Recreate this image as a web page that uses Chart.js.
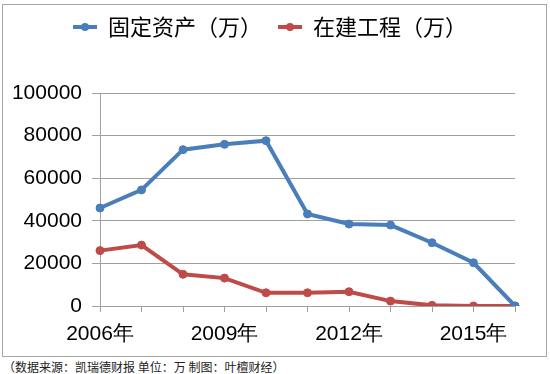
<!DOCTYPE html>
<html>
<head>
<meta charset="utf-8">
<script src="https://cdn.jsdelivr.net/npm/chart.js@4/dist/chart.umd.min.js"></script>
<style>
  body { margin: 0; background: #fff; width: 550px; height: 374px; position: relative; overflow: hidden; }
  #frame { position: absolute; left: 2px; top: 4px; width: 543px; height: 351px; border: 1px solid #a6a6a6; }
  #wrap { position: absolute; left: 3px; top: 0; width: 540px; height: 356px; }
  #note { position: absolute; left: 3px; top: 358px; font: 12px "Noto Sans CJK SC", sans-serif; color: #222; white-space: nowrap; }
</style>
</head>
<body>
<div id="frame"></div>
<div id="wrap"><canvas id="chart"></canvas></div>
<div id="note">（数据来源：凯瑞德财报 单位：万 制图：叶檀财经）</div>
<script>
// data
const years = ['2006年', '2007年', '2008年', '2009年', '2010年', '2011年', '2012年', '2013年', '2014年', '2015年', '2016年'];
const fixedAssets = [46000, 54500, 73400, 75900, 77600, 43200, 38500, 38000, 29700, 20300, 0];
const construction = [26000, 28600, 14900, 13100, 6200, 6200, 6700, 2300, 300, 0, 0];
const seriesNames = ['固定资产（万）', '在建工程（万）'];
const seriesColors = ['#4A7EBB', '#BE4B48'];

// legend marker: short line with a dot, like the spreadsheet legend
function legendMarker(color) {
    const c = document.createElement('canvas');
    c.width = 24; c.height = 10;
    const ctx = c.getContext('2d');
    ctx.strokeStyle = color;
    ctx.lineWidth = 4;
    ctx.beginPath();
    ctx.moveTo(0, 5); ctx.lineTo(24, 5);
    ctx.stroke();
    ctx.fillStyle = color;
    ctx.beginPath();
    ctx.arc(12, 5, 4, 0, Math.PI * 2);
    ctx.fill();
    return c;
}

// fixed legend height so the plot starts where it does in the picture,
// and nudge the legend a little right of centre
const legendTweak = {
    id: 'legendTweak',
    beforeInit(chart) {
        const legend = chart.legend;
        const fit = legend.fit;
        legend.fit = function () {
            fit.call(legend);
            this.height = 93;
        };
        const draw = legend.draw;
        legend.draw = function () {
            const ctx = chart.ctx;
            ctx.save();
            ctx.translate(11, 0);
            draw.call(legend);
            ctx.restore();
        };
    }
};

const font = { family: '"Liberation Sans", Arial, sans-serif', size: 21 };

new Chart(document.getElementById('chart'), {
    type: 'line',
    data: {
        labels: years,
        datasets: [
            { label: seriesNames[0], data: fixedAssets, borderColor: seriesColors[0], backgroundColor: seriesColors[0] },
            { label: seriesNames[1], data: construction, borderColor: seriesColors[1], backgroundColor: seriesColors[1] }
        ]
    },
    options: {
        responsive: true,
        maintainAspectRatio: false,
        animation: false,
        layout: { padding: { left: 0, right: 28, top: 0, bottom: 0 } },
        elements: {
            line: { borderWidth: 4, tension: 0 },
            point: { radius: 4, hoverRadius: 4, pointStyle: 'circle' }
        },
        plugins: {
            legend: {
                position: 'top',
                labels: {
                    usePointStyle: true,
                    pointStyleWidth: 24,
                    boxHeight: 10,
                    padding: 16,
                    color: '#000',
                    font: { family: '"Noto Sans CJK SC", sans-serif', size: 22 },
                    generateLabels(chart) {
                        return chart.data.datasets.map((ds, i) => ({
                            text: ds.label,
                            fillStyle: ds.borderColor,
                            strokeStyle: ds.borderColor,
                            pointStyle: legendMarker(ds.borderColor),
                            datasetIndex: i,
                            lineWidth: 0,
                            fontColor: '#000'
                        }));
                    }
                }
            },
            tooltip: { enabled: false }
        },
        scales: {
            x: {
                offset: false,
                grid: { drawOnChartArea: false, drawTicks: true, tickLength: 6, color: '#a0a0a0' },
                border: { color: '#a0a0a0' },
                ticks: {
                    autoSkip: false, maxRotation: 0, padding: 10, color: '#000', font,
                    callback(v, i) { return i % 3 === 0 ? years[i] : ''; }
                },
                afterFit(s) { s.height = 50; }
            },
            y: {
                min: 0, max: 100000,
                grid: { color: '#a0a0a0', tickLength: 8 },
                border: { color: '#a0a0a0' },
                ticks: { stepSize: 20000, padding: 10, color: '#000', font, callback: v => String(v) },
                afterFit(s) { s.width = 97; }
            }
        }
    },
    plugins: [legendTweak]
});
</script>
</body>
</html>
